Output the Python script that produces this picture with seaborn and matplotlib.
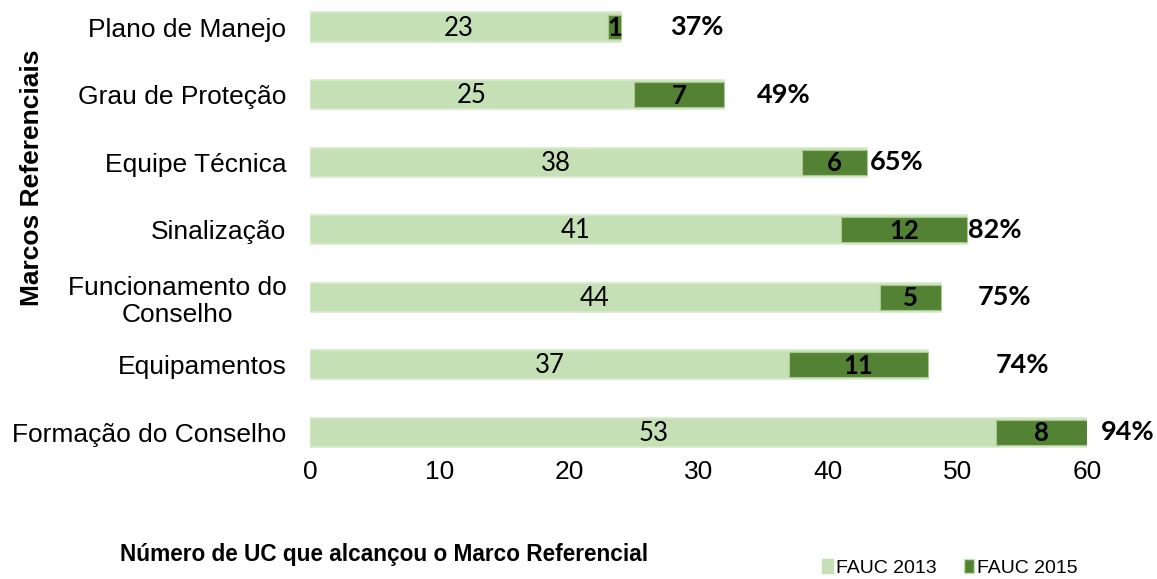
import numpy as np
import pandas as pd
import matplotlib.pyplot as plt
import seaborn as sns
from matplotlib.patches import Patch

# values
marcos = ["Plano de Manejo", "Grau de Proteção", "Equipe Técnica", "Sinalização",
          "Funcionamento do\nConselho", "Equipamentos", "Formação do Conselho"]
fauc_2013 = [23, 25, 38, 41, 44, 37, 53]
fauc_2015 = [1, 7, 6, 12, 5, 11, 8]
bar_end = [24, 32, 43, 50.7, 48.7, 47.7, 60]
pct = ["37%", "49%", "65%", "82%", "75%", "74%", "94%"]
pct_x = [29.9, 36.6, 45.3, 52.9, 53.6, 55.0, 63.1]

light = "#C5E0B4"
dark = "#548235"

df = pd.DataFrame({"marco": marcos, "start": fauc_2013, "end": bar_end})

sns.set_style("white")
plt.rcParams["font.family"] = ["Liberation Sans", "DejaVu Sans"]
plt.rcParams["text.color"] = "black"
plt.rcParams["xtick.color"] = "black"
plt.rcParams["ytick.color"] = "black"

fig = plt.figure(figsize=(11.57, 5.79), dpi=100)
ax = fig.add_axes([0.268, 0.213, 0.6716, 0.787])

sns.barplot(data=df, x="end", y="marco", color=light, width=0.43,
            edgecolor="#D6EACB", linewidth=1.2, saturation=1, ax=ax)
y = np.arange(len(marcos))
widths = np.array(bar_end) - np.array(fauc_2013)
ax.barh(y, widths, left=fauc_2013, height=0.37, color=dark,
        edgecolor="#A9C98F", linewidth=0.8)

for i in range(len(marcos)):
    ax.text(fauc_2013[i] / 2, i + 0.02, str(fauc_2013[i]), ha="center", va="center",
            fontsize=18.5, family="Lato")
    ax.text(fauc_2013[i] + widths[i] / 2, i + 0.02, str(fauc_2015[i]), ha="center",
            va="center", fontsize=18.5, family="Lato", fontweight="bold")
    ax.text(pct_x[i], i, pct[i], ha="center", va="center", fontsize=19.5,
            family="Lato", fontweight="bold", clip_on=False)

ax.set_xlim(0, 60)
ax.set_ylim(6.35, -0.4)
ax.set_xticks(range(0, 61, 10))
ax.tick_params(axis="x", length=0, pad=3, labelsize=19)
ax.tick_params(axis="y", length=0, pad=17, labelsize=19)
for lab in ax.get_yticklabels():
    lab.set_multialignment("center")
ax.set_xlabel("")
ax.set_ylabel("")
sns.despine(ax=ax, left=True, bottom=True)

fig.text(32 / 1157, 1 - 178 / 579, "Marcos Referenciais", rotation=90,
         ha="center", va="center", fontsize=19, fontweight="bold")
fig.text(384 / 1157, 1 - 555 / 579, "Número de UC que alcançou o Marco Referencial",
         ha="center", va="center", fontsize=16.3, fontweight="bold")

handles = [Patch(facecolor=light, edgecolor=light, label="FAUC 2013"),
           Patch(facecolor=dark, edgecolor=light, label="FAUC 2015")]
fig.legend(handles=handles, loc="center", bbox_to_anchor=(950 / 1157, 1 - 568 / 579),
           ncol=2, frameon=False, fontsize=14, handlelength=0.55, handleheight=0.7,
           handletextpad=0.15, columnspacing=1.4)

fig.savefig("out.png", dpi=100)
